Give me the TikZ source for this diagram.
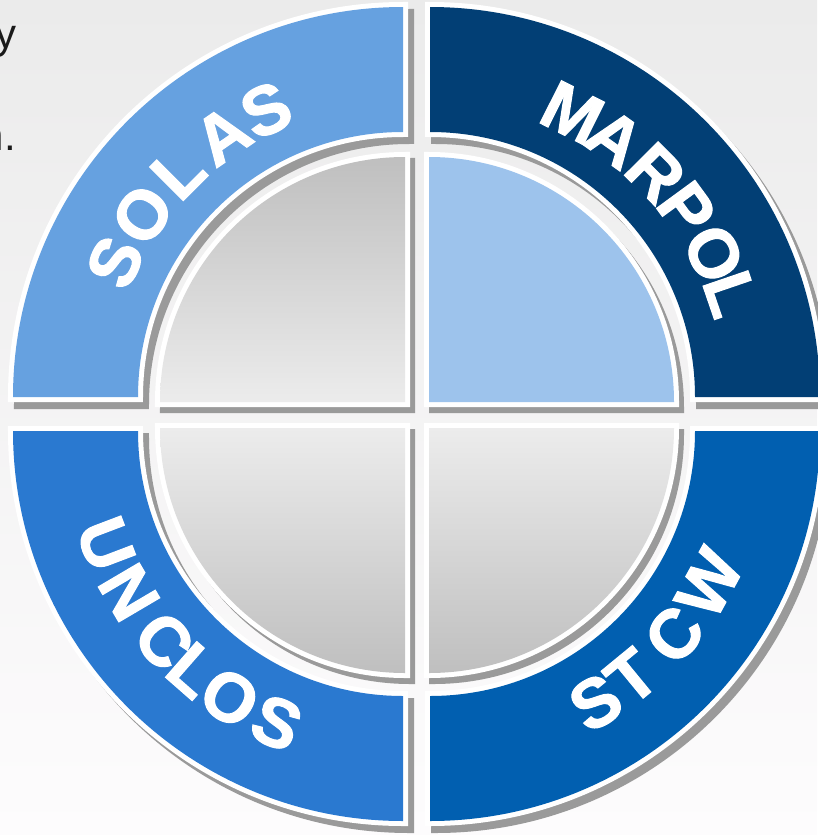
\documentclass[tikz,border=0pt]{standalone}
\usepackage{fontspec}
\setmainfont{Liberation Sans}
\newfontfamily\heavyfont[BoldFeatures={FakeBold=1.6}]{Liberation Sans}
\definecolor{bgtop}{HTML}{EBEBEB}
\definecolor{bgmid}{HTML}{F4F4F4}
\definecolor{bgbot}{HTML}{FDFCFD}
\definecolor{solas}{HTML}{66A1E0}
\definecolor{marpol}{HTML}{023F75}
\definecolor{unclos}{HTML}{2A79D0}
\definecolor{stcw}{HTML}{015FB0}
\definecolor{pieblue}{HTML}{9DC3EC}
\definecolor{piedark}{HTML}{BFBFBF}
\definecolor{pielight}{HTML}{ECECEC}
\definecolor{shadowgray}{HTML}{9A9A9A}
\definecolor{bodytext}{HTML}{1A1A1A}
\tikzset{
  shadowfill/.style={fill=shadowgray, draw=shadowgray, line width=10pt},
  whiteedge/.style={preaction={draw=white, line width=10pt}},
  lett/.style={text=white, font=\fontsize{69}{69}\selectfont\heavyfont\bfseries, inner sep=0pt},
  bodyline/.style={text=bodytext, font=\fontsize{42}{42}\selectfont, inner sep=0pt, anchor=base east}
}
\begin{document}
\begin{tikzpicture}[x=1pt,y=1pt]
\useasboundingbox (0,0) rectangle (817,-835);
\shade[top color=bgtop, middle color=bgmid, bottom color=bgbot] (0,0) rectangle (817,-835);
% text behind the diagram
\node[bodyline] (line1) at (17,-48) {y};
\node[bodyline] (line2) at (16,-150) {n.};
% shadows
\foreach \cx/\cy/\a/\b in {403/-397/90/180, 430/-397/0/90, 403/-431/180/270, 430/-431/270/360} {
  \path[shadowfill, shift={(\cx+6,\cy-7)}] (\a:390pt) arc[start angle=\a, end angle=\b, radius=390pt] -- (\b:265pt) arc[start angle=\b, end angle=\a, radius=265pt] -- cycle;
}
\foreach \cx/\cy/\a/\b in {405/-402/90/180, 429/-402/0/90, 405/-428/180/270, 429/-428/270/360} {
  \path[shadowfill, shift={(\cx+5,\cy-6)}] (0,0) -- (\a:245pt) arc[start angle=\a, end angle=\b, radius=245pt] -- cycle;
}
% outer ring segments
\foreach \cx/\cy/\a/\b/\col in {403/-397/90/180/solas, 430/-397/0/90/marpol, 403/-431/180/270/unclos, 430/-431/270/360/stcw} {
  \path[whiteedge, fill=\col, shift={(\cx,\cy)}] (\a:390pt) arc[start angle=\a, end angle=\b, radius=390pt] -- (\b:265pt) arc[start angle=\b, end angle=\a, radius=265pt] -- cycle;
}
% inner quarters
\path[whiteedge, top color=piedark, bottom color=pielight, shift={(405,-402)}] (0,0) -- (90:245pt) arc[start angle=90, end angle=180, radius=245pt] -- cycle;
\path[whiteedge, fill=pieblue, shift={(429,-402)}] (0,0) -- (0:245pt) arc[start angle=0, end angle=90, radius=245pt] -- cycle;
\path[whiteedge, top color=pielight, bottom color=piedark, shift={(405,-428)}] (0,0) -- (180:245pt) arc[start angle=180, end angle=270, radius=245pt] -- cycle;
\path[whiteedge, top color=pielight, bottom color=piedark, shift={(429,-428)}] (0,0) -- (270:245pt) arc[start angle=270, end angle=360, radius=245pt] -- cycle;
% labels
\foreach \ch/\ang [count=\i] in {S/154.9, O/145, L/135, A/124.6, S/115.5}
  \node[lett, rotate=\ang-90] (solas\i) at ([shift={(403,-397)}]\ang:318pt) {\ch};
\foreach \ch/\ang [count=\i] in {M/63.4, A/54.4, R/44.8, P/36.2, O/26.8, L/18.9}
  \node[lett, rotate=\ang-90] (marpol\i) at ([shift={(430,-397)}]\ang:318pt) {\ch};
\foreach \ch/\ang [count=\i] in {U/200.8, N/210.5, C/221.3, L/228.8, O/237.0, S/246.6}
  \node[lett, rotate=\ang+90] (unclos\i) at ([shift={(403,-431)}]\ang:318pt) {\ch};
\foreach \ch/\ang [count=\i] in {S/301.4, T/309.4, C/320.2, W/331.4}
  \node[lett, rotate=\ang+90] (stcw\i) at ([shift={(430,-431)}]\ang:318pt) {\ch};
\end{tikzpicture}
\end{document}
